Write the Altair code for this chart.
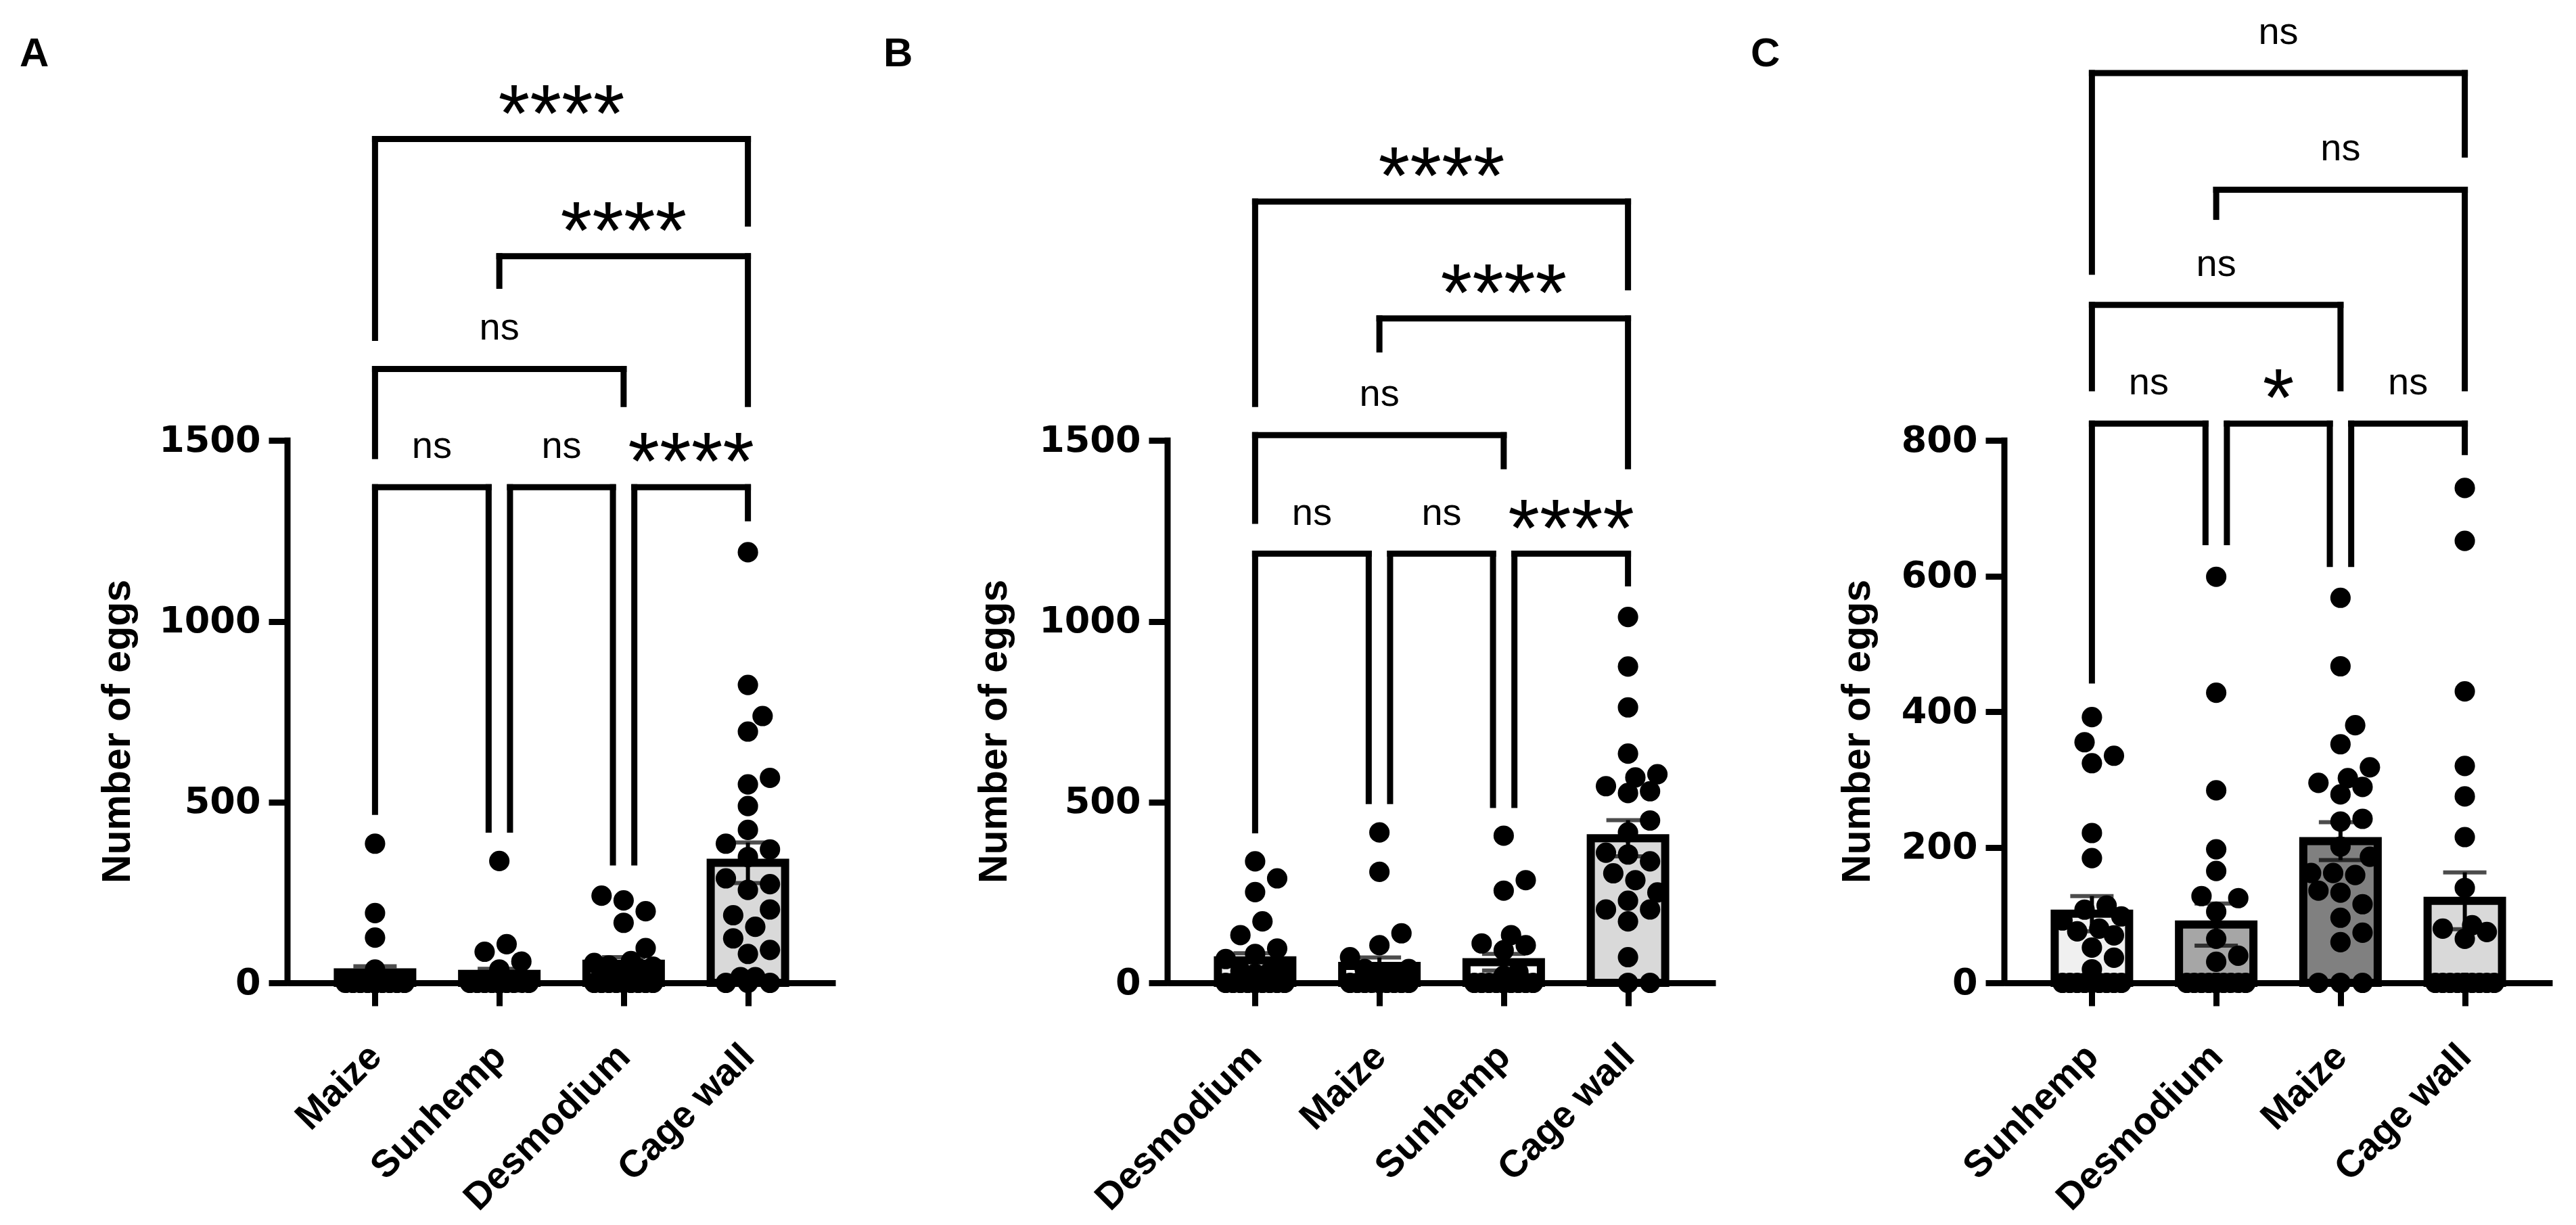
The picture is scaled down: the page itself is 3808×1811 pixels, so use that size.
import json
import math
import altair as alt
import pandas as pd

# ---------------- data ----------------
A_cats = ["Maize", "Sunhemp", "Desmodium", "Cage wall"]
A_maize = [385, 193, 125, 37, 0, 0, 0, 0, 0, 0, 0, 0, 0, 0, 0, 0, 0, 0, 0, 0, 0, 0, 0, 0, 0]
A_sunhemp = [337, 107, 86, 59, 37, 0, 0, 0, 0, 0, 0, 0, 0, 0, 0, 0, 0, 0, 0, 0, 0, 0, 0, 0, 0]
A_desmodium = [241, 228, 198, 166, 96, 60, 55, 48, 45, 40, 35, 30, 25, 20, 15, 10, 0, 0, 0, 0, 0, 0, 0, 0, 0]
A_cage = [1191, 824, 738, 695, 567, 549, 489, 423, 385, 369, 348, 289, 273, 257, 203, 187, 155, 123, 91, 80, 16, 16, 0, 0, 0]
A_means = [29, 25, 53, 332]
A_sems = [17, 14, 18, 56]
A_fills = ["#ffffff", "#ffffff", "#a6a6a6", "#d9d9d9"]
A_ticks = [0, 500, 1000, 1500]
A_brackets = [  # left, right, level, left leg bottom, right leg bottom, label
    (0, 1, 1371, 473, 424, "ns"),
    (1, 2, 1371, 424, 333, "ns"),
    (2, 3, 1371, 333, 1285, "****"),
    (0, 2, 1698, 1457, 1601, "ns"),
    (1, 3, 2010, 1928, 1601, "****"),
    (0, 3, 2334, 1784, 2100, "****"),
]

B_cats = ["Desmodium", "Maize", "Sunhemp", "Cage wall"]
B_desmodium = [336, 289, 251, 170, 132, 95, 80, 66, 38, 33, 30, 25, 0, 0, 0, 0, 0, 0, 0, 0, 0, 0, 0, 0, 0]
B_maize = [416, 307, 137, 104, 71, 38, 38, 30, 20, 0, 0, 0, 0, 0, 0, 0, 0, 0, 0, 0, 0, 0, 0, 0, 0]
B_sunhemp = [407, 284, 255, 132, 109, 104, 90, 30, 20, 0, 0, 0, 0, 0, 0, 0, 0, 0, 0, 0, 0, 0, 0, 0, 0]
B_cage = [1012, 875, 762, 634, 577, 568, 544, 530, 525, 449, 416, 360, 355, 336, 303, 284, 250, 227, 203, 203, 170, 71, 0, 0]
B_means = [62, 47, 57, 400]
B_sems = [20, 23, 23, 50]
B_fills = ["#f0f0f0", "#ffffff", "#ffffff", "#d9d9d9"]
B_ticks = [0, 500, 1000, 1500]
B_brackets = [
    (0, 1, 1187, 422, 503, "ns"),
    (1, 2, 1187, 503, 492, "ns"),
    (2, 3, 1187, 492, 1105, "****"),
    (0, 2, 1515, 1278, 1429, "ns"),
    (1, 3, 1838, 1752, 1429, "****"),
    (0, 3, 2161, 1601, 1924, "****"),
]

C_cats = ["Sunhemp", "Desmodium", "Maize", "Cage wall"]
C_sunhemp = [392, 355, 335, 324, 221, 184, 114, 108, 98, 92, 80, 76, 70, 52, 37, 20, 0, 0, 0, 0, 0, 0, 0, 0, 0]
C_desmodium = [599, 428, 284, 197, 165, 128, 125, 105, 65, 40, 31, 0, 0, 0, 0, 0, 0, 0, 0, 0, 0, 0, 0, 0, 0]
C_maize = [568, 467, 380, 352, 318, 302, 295, 289, 278, 242, 238, 201, 186, 162, 162, 159, 136, 133, 116, 96, 74, 60, 0, 0, 0]
C_cage = [730, 652, 430, 320, 275, 215, 140, 85, 80, 75, 65, 0, 0, 0, 0, 0, 0, 0, 0, 0, 0, 0, 0, 0, 0]
C_means = [102, 86, 209, 121]
C_sems = [26, 31, 28, 42]
C_fills = ["#f0f0f0", "#a6a6a6", "#808080", "#d9d9d9"]
C_ticks = [0, 200, 400, 600, 800]
C_brackets = [
    (0, 1, 825, 446, 650, "ns"),
    (1, 2, 825, 650, 618, "*"),
    (2, 3, 825, 618, 783, "ns"),
    (0, 2, 1000, 877, 877, "ns"),
    (1, 3, 1170, 1130, 877, "ns"),
    (0, 3, 1342, 1049, 1222, "ns"),
]

# ---------------- layout / style ----------------
W = 810
H = 1403
XDOM = [-0.677, 3.677]
STEP = W / (XDOM[1] - XDOM[0])  # px per category
LEG_OFF = 16 / STEP
FONT = "Liberation Sans"
TICKFONT = "DejaVu Sans"
LINE = 9


def swarm(vals, ppu, d=34.0, maxoff=44.0, inc=11.0):
    cands = [0.0]
    k = 1
    while k * inc <= maxoff + 0.01:
        cands += [k * inc, -k * inc]
        k += 1
    placed = []
    res = [0.0] * len(vals)
    for i in sorted(range(len(vals)), key=lambda j: vals[j]):
        y = vals[i] * ppu
        best, bc, bd = None, 0.0, -1.0
        for c in cands:
            md = min((math.hypot(c - px, y - py) for px, py in placed), default=1e9)
            if md >= 0.92 * d:
                best = c
                break
            if md > bd:
                bd, bc = md, c
        if best is None:
            best = bc
        placed.append((best, y))
        res[i] = best / STEP
    return res


def panel(letter, letter_dx, cats, groups, means, sems, fills, ticks, ymax, brackets, title_x):
    ppu = H / ymax
    xscale = alt.Scale(domain=XDOM, nice=False, zero=False)
    yscale = alt.Scale(domain=[0, ymax], nice=False, zero=True)
    xaxis = alt.Axis(values=[0, 1, 2, 3], labelExpr=json.dumps(cats) + "[datum.value]",
                     labelAngle=-45, labelAlign="right", labelBaseline="middle", labelLimit=1000,
                     labelFont=FONT, labelFontSize=56, labelFontWeight="bold", labelColor="black",
                     labelPadding=66, domainColor="black", domainWidth=LINE, tickColor="black",
                     tickWidth=LINE, tickSize=34, grid=False, title=None, labelOverlap=False)
    yaxis = alt.Axis(values=ticks, format="d", domain=False, tickColor="black", tickWidth=LINE,
                     tickSize=28, labelFont=TICKFONT, labelFontSize=54, labelFontWeight="bold",
                     labelColor="black", labelPadding=12, grid=False, title="Number of eggs",
                     titleFont=FONT, titleFontSize=59, titleFontWeight="bold", titleColor="black",
                     titleX=title_x, titleY=1031, titleAngle=-90, titleAlign="center",
                     titleBaseline="middle")

    def X(f):
        return alt.X(f, type="quantitative", scale=xscale, axis=xaxis)

    def Y(f):
        return alt.Y(f, type="quantitative", scale=yscale, axis=yaxis)

    pts = []
    for gi, vals in enumerate(groups):
        offs = swarm(vals, ppu)
        for v, o in zip(vals, offs):
            pts.append({"px": gi + o, "v": v})
    pts = pd.DataFrame(pts)

    bars = pd.DataFrame({"x": [0, 1, 2, 3], "mean": means, "zero": [0] * 4, "fill": fills,
                         "lo": [m - s for m, s in zip(means, sems)],
                         "hi": [m + s for m, s in zip(means, sems)]})

    hs, legs, ns_lab, st_lab = [], [], [], []
    for (a, b, lvl, lb, rb, lab) in brackets:
        lo = LEG_OFF if (b - a == 1 and a > 0) else 0.0
        ro = -LEG_OFF if (b - a == 1 and b < 3) else 0.0
        xa, xb = a + lo, b + ro
        hs.append({"x1": xa, "x2": xb, "y": lvl})
        legs.append({"x": xa, "yt": lvl, "yb": lb})
        legs.append({"x": xb, "yt": lvl, "yb": rb})
        rec = {"x": (xa + xb) / 2, "y": lvl, "t": lab}
        (ns_lab if lab == "ns" else st_lab).append(rec)
    hs, legs = pd.DataFrame(hs), pd.DataFrame(legs)

    yline = alt.Chart(pd.DataFrame({"y0": [0], "y1": [ticks[-1]]})).mark_rule(
        color="black", strokeWidth=LINE, strokeCap="square").encode(
        x=alt.value(0), y=Y("y0"), y2=alt.Y2("y1"))

    bar = alt.Chart(bars).mark_bar(size=110, orient="vertical", stroke="black", strokeWidth=12).encode(
        x=X("x"), y=Y("mean"), y2=alt.Y2("zero"), fill=alt.Fill("fill:N", scale=None))

    err = alt.Chart(bars).mark_rule(color="black", strokeWidth=6).encode(
        x=X("x"), y=Y("lo"), y2=alt.Y2("hi"))
    cap_hi = alt.Chart(bars).mark_tick(orient="horizontal", size=64, thickness=6, color="black").encode(
        x=X("x"), y=Y("hi"))
    cap_lo = alt.Chart(bars).mark_tick(orient="horizontal", size=64, thickness=6, color="black").encode(
        x=X("x"), y=Y("lo"))

    dots = alt.Chart(pts).mark_circle(size=908, opacity=1, color="black").encode(
        x=X("px"), y=Y("v"))

    hrule = alt.Chart(hs).mark_rule(color="black", strokeWidth=LINE, strokeCap="square").encode(
        x=X("x1"), x2=alt.X2("x2"), y=Y("y"))
    vrule = alt.Chart(legs).mark_rule(color="black", strokeWidth=LINE, strokeCap="square").encode(
        x=X("x"), y=Y("yt"), y2=alt.Y2("yb"))

    layers = [yline, bar, err, cap_hi, cap_lo, dots, hrule, vrule]
    if ns_lab:
        layers.append(alt.Chart(pd.DataFrame(ns_lab)).mark_text(
            font=FONT, fontSize=56, color="black", baseline="alphabetic", align="center", dy=-43).encode(
            x=X("x"), y=Y("y"), text="t:N"))
    if st_lab:
        layers.append(alt.Chart(pd.DataFrame(st_lab)).mark_text(
            font=FONT, fontSize=120, color="black", baseline="alphabetic", align="center", dy=3).encode(
            x=X("x"), y=Y("y"), text="t:N"))
    layers.append(alt.Chart(pd.DataFrame({"t": [letter]})).mark_text(
        font=FONT, fontSize=60, fontWeight="bold", color="black", align="left",
        baseline="alphabetic").encode(x=alt.value(letter_dx), y=alt.value(48), text="t:N"))

    return alt.layer(*layers).properties(width=W, height=H)


pA = panel("A", -396, A_cats, [A_maize, A_sunhemp, A_desmodium, A_cage], A_means, A_sems,
           A_fills, A_ticks, 2625, A_brackets, -252)
pB = panel("B", -420, B_cats, [B_desmodium, B_maize, B_sunhemp, B_cage], B_means, B_sems,
           B_fills, B_ticks, 2625, B_brackets, -257)
pC = panel("C", -375, C_cats, [C_sunhemp, C_desmodium, C_maize, C_cage], C_means, C_sems,
           C_fills, C_ticks, 1400, C_brackets, -218)

chart = alt.hconcat(alt.hconcat(pA, pB, spacing=71), pC, spacing=52).properties(
    padding={"left": 21, "top": 12, "right": 5, "bottom": 5}
).configure(background="white").configure_view(strokeWidth=0, stroke="transparent")

chart.save("out.html", embed_options={"renderer": "svg", "actions": False})
